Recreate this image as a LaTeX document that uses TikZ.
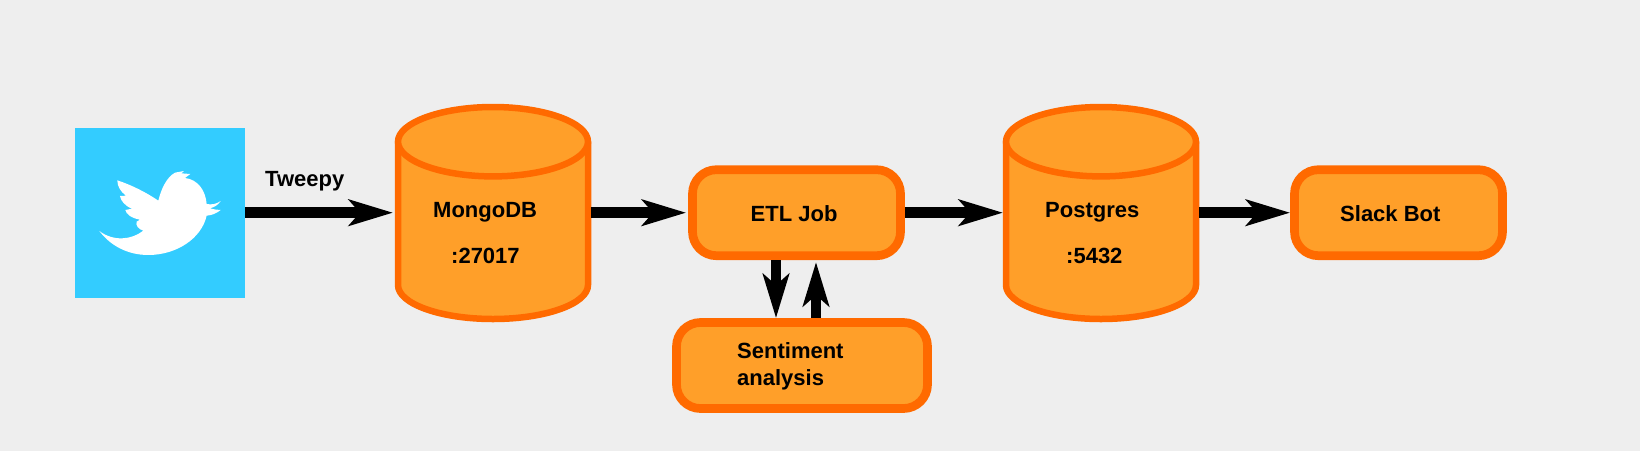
\documentclass[tikz,border=0pt]{standalone}
\usepackage{fontspec}
\setmainfont{Liberation Sans}
\usetikzlibrary{arrows.meta}
\definecolor{bgc}{HTML}{EEEEEE}
\definecolor{fillc}{HTML}{FF9F29}
\definecolor{edgec}{HTML}{FF6A00}
\definecolor{twc}{HTML}{33CCFF}
\tikzset{
  x=1pt,y=-1pt,
  box/.style={draw=edgec,fill=fillc,line width=8.7pt,rounded corners=24pt,inner sep=0pt,outer sep=4.35pt},
  cyl/.style={draw=edgec,fill=fillc,line width=6.5pt,line join=round},
  anch/.style={inner sep=0pt,outer sep=0pt,minimum width=196pt,minimum height=218pt},
  lab/.style={font=\fontsize{22}{27}\selectfont\bfseries,anchor=base west,inner sep=0pt,text=black},
  flow/.style={line width=10.5pt,draw=black,-{Stealth[length=44pt,width=26pt,inset=11pt]}},
  gap/.style={shorten >=2pt},
}
\newcommand{\cylshape}[1]{%
  \path[cyl] (#1-95,141.7) -- (#1-95,285)
    .. controls (#1-95,304) and (#1-52,319) .. (#1,319)
    .. controls (#1+52,319) and (#1+95,304) .. (#1+95,285)
    -- (#1+95,141.7) -- cycle;
  \path[cyl] (#1-95,141.7)
    .. controls (#1-95,122.7) and (#1-52,107) .. (#1,107)
    .. controls (#1+52,107) and (#1+95,122.7) .. (#1+95,141.7)
    .. controls (#1+95,160.7) and (#1+52,176.4) .. (#1,176.4)
    .. controls (#1-52,176.4) and (#1-95,160.7) .. (#1-95,141.7) -- cycle;
}
\begin{document}
\begin{tikzpicture}
\useasboundingbox[fill=bgc] (0,0) rectangle (1640,451);
% twitter
\node[fill=twc,minimum width=170pt,minimum height=170pt,inner sep=0pt,outer sep=0pt] (tw) at (160,212.7) {};
\fill[white,shift={(60,110)},x=0.3333pt,y=-0.3333pt]
 (118,363) .. controls (160,395) and (215,390) .. (250,362)
 .. controls (235,358) and (226,345) .. (230,335) -- (240,329)
 .. controls (215,325) and (198,312) .. (196,300) -- (216,296)
 .. controls (195,288) and (182,272) .. (180,258) -- (198,257)
 .. controls (182,245) and (172,230) .. (172,211)
 .. controls (215,225) and (260,248) .. (295,272)
 .. controls (303,240) and (318,203) .. (345,188)
 -- (372,183) -- (364,190) -- (391,192) -- (375,204)
 .. controls (412,208) and (437,240) .. (440,282)
 .. controls (455,285) and (470,282) .. (482,273)
 .. controls (475,285) and (462,292) .. (450,295)
 .. controls (462,298) and (472,300) .. (482,300)
 .. controls (470,310) and (455,316) .. (440,317)
 .. controls (425,385) and (350,435) .. (265,435)
 .. controls (200,435) and (150,405) .. (118,363) -- cycle;
% mongo
\node[anch] (mongo) at (493,212.7) {};
\cylshape{493}
\node[lab] (mongolab) at (433,217) {MongoDB};
\node[lab] (mongoport) at (451,263) {:27017};
% postgres
\node[anch] (pg) at (1101,212.7) {};
\cylshape{1101}
\node[lab] (pglab) at (1045,217) {Postgres};
\node[lab] (pgport) at (1066,263) {:5432};
% boxes
\node[box,minimum width=208pt,minimum height=86pt] (etl) at (796.5,212.7) {};
\node[lab] (etllab) at (750.5,221) {ETL Job};
\node[box,minimum width=251pt,minimum height=86pt] (sent) at (802,365.5) {};
\node[lab] (sentlab1) at (737,358.5) {Sentiment};
\node[lab] (sentlab2) at (737,385.5) {analysis};
\node[box,minimum width=208pt,minimum height=86pt] (slack) at (1398.5,212.7) {};
\node[lab] (slacklab) at (1340,221) {Slack Bot};
\node[lab] (tweepy) at (265,186.7) {Tweepy};
% connectors
\coordinate (dnx) at (776,0);
\coordinate (upx) at (816,0);
\draw[flow,gap] (tw.east) -- (mongo.west);
\draw[flow,gap] (mongo.east) -- (etl.west);
\draw[flow] (etl.east) -- (pg.west);
\draw[flow] (pg.east) -- (slack.west);
\draw[flow] (etl.south -| dnx) -- (sent.north -| dnx);
\draw[flow,gap] (sent.north -| upx) -- (etl.south -| upx);
\end{tikzpicture}
\end{document}
